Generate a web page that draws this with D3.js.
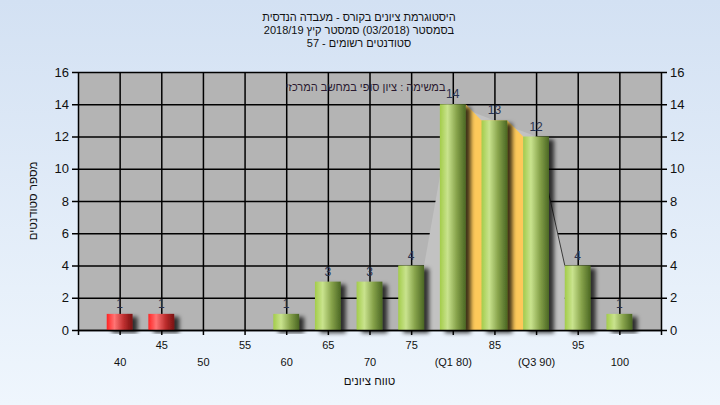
<!DOCTYPE html>
<html><head><meta charset="utf-8">
<script src="https://cdn.jsdelivr.net/npm/d3@7"></script>
<style>
html,body{margin:0;padding:0;}
svg{display:block;font-family:"Liberation Sans",Arial,sans-serif;}
</style></head>
<body>
<svg id="chart" width="720" height="405"></svg>
<script>
// ---- data ----
const titleLines = ["היסטוגרמת ציונים בקורס - מעבדה הנדסית", "בסמסטר (03/2018) סמסטר קיץ 2018/19", "סטודנטים רשומים - 57"];
const subtitle = "במשימה : ציון סופי במחשב המרכזי";
const xTitle = "טווח ציונים";
const yTitle = "מספר סטודנטים";
const categories = ["40","45","50","55","60","65","70","75","80","85","90","95","100"];
const tickLabels = ["40","45","50","55","60","65","70","75","(Q1 80)","85","(Q3 90)","95","100"];
const counts = [1,1,0,0,1,3,3,4,14,13,12,4,1];
const failCategories = ["40","45"];
const yTicks = [0,2,4,6,8,10,12,14,16];
const spreadRange = ["75","80","85","90","95"];   // light grey region
const iqrRange = ["80","85","90"];                // Q1..Q3 orange region

const W = 720, H = 405;
const m = {l:78, r:661, t:72, b:330};
const svg = d3.select("#chart");
const defs = svg.append("defs");

// background
const bg = defs.append("linearGradient").attr("id","bg").attr("x1",0).attr("y1",0).attr("x2",0).attr("y2",1);
bg.append("stop").attr("offset","0%").attr("stop-color","#d3e1f3");
bg.append("stop").attr("offset","100%").attr("stop-color","#eff6fd");
svg.append("rect").attr("width",W).attr("height",H).attr("fill","url(#bg)");

function cyl(id, c0, c1, c2, c3){
  const g = defs.append("linearGradient").attr("id",id).attr("x1",0).attr("y1",0).attr("x2",1).attr("y2",0);
  g.append("stop").attr("offset","0%").attr("stop-color",c0);
  g.append("stop").attr("offset","30%").attr("stop-color",c1);
  g.append("stop").attr("offset","65%").attr("stop-color",c2);
  g.append("stop").attr("offset","100%").attr("stop-color",c3);
}
cyl("green","#a3cc4a","#c9e38e","#86a24a","#4b6723");
cyl("red","#ff2424","#ff7474","#c03030","#781010");

const sh = defs.append("filter").attr("id","shadow").attr("x","-20%").attr("y","-20%").attr("width","160%").attr("height","140%");
sh.append("feDropShadow").attr("dx",5).attr("dy",3).attr("stdDeviation",2).attr("flood-color","#000").attr("flood-opacity",0.75);

const x = d3.scalePoint().domain(categories).range([m.l, m.r]).padding(1);
const y = d3.scaleLinear().domain([0,16]).range([m.b, m.t]);
const bw = x.step()*0.62;
const val = c => counts[categories.indexOf(c)];

// plot background
svg.append("rect").attr("x",m.l).attr("y",m.t).attr("width",m.r-m.l).attr("height",m.b-m.t).attr("fill","#b4b4b4");

// grid
svg.append("g").attr("transform",`translate(${m.l},0)`)
  .call(d3.axisLeft(y).tickValues(yTicks).tickSize(-(m.r-m.l)).tickFormat(""))
  .call(g=>{g.select(".domain").remove(); g.selectAll("line").attr("stroke","#000").attr("stroke-width",1.5);});
svg.append("g").attr("transform",`translate(0,${m.b})`)
  .call(d3.axisBottom(x).tickSize(-(m.b-m.t)).tickFormat(""))
  .call(g=>{g.select(".domain").remove(); g.selectAll("line").attr("stroke","#000").attr("stroke-width",1.5);});

// spread area (light grey)
const s0 = spreadRange[0], s1 = spreadRange[spreadRange.length-1];
const greyPts = [[x(s0)+bw/2, y(0)],[x(s0)+bw/2, y(val(s0))]];
spreadRange.slice(1,-1).forEach(c=>greyPts.push([x(c), y(val(c))]));
greyPts.push([x(s1)-bw/2, y(val(s1))],[x(s1)-bw/2, y(0)]);
svg.append("path").attr("d", d3.line()(greyPts)).attr("fill","#c2c2c2");
svg.append("path").attr("d", d3.line()(greyPts.slice(-3,-1))).attr("fill","none").attr("stroke","#3a3a3a").attr("stroke-width",1);

// IQR area (orange)
const orangePts = [];
iqrRange.forEach((c,i)=>{
  if(i>0) orangePts.push([x(c)-bw/2, y(val(c))]);
  if(i<iqrRange.length-1) orangePts.push([x(c)+bw/2, y(val(c))]);
});
const op = [[orangePts[0][0], y(0)], ...orangePts, [orangePts[orangePts.length-1][0], y(0)]];
svg.append("path").attr("d", d3.line()(op)).attr("fill","#fdc95a");

// bars
svg.append("g").selectAll("rect").data(categories.filter(c=>val(c)>0)).join("rect")
  .attr("x", c=>x(c)-bw/2).attr("width", bw)
  .attr("y", c=>y(val(c))).attr("height", c=>y(0)-y(val(c)))
  .attr("fill", c=> failCategories.includes(c) ? "url(#red)" : "url(#green)")
  .attr("filter","url(#shadow)");

// value labels
svg.append("g").selectAll("text").data(categories.filter(c=>val(c)>0)).join("text")
  .attr("x", c=>x(c)).attr("y", c=>y(val(c))-6)
  .attr("text-anchor","middle").attr("font-size",12).attr("fill","#2a3350")
  .text(c=>val(c));

// axes
const yl = svg.append("g").attr("transform",`translate(${m.l},0)`)
  .call(d3.axisLeft(y).tickValues(yTicks).tickSizeInner(6).tickSizeOuter(0));
const yr = svg.append("g").attr("transform",`translate(${m.r},0)`)
  .call(d3.axisRight(y).tickValues(yTicks).tickSizeInner(6).tickSizeOuter(0));
[yl,yr].forEach(g=>{
  g.selectAll("line").attr("stroke","#000").attr("stroke-width",1.5);
  g.select(".domain").attr("stroke","#000").attr("stroke-width",1.5);
  g.selectAll("text").attr("font-size",13).attr("fill","#111").attr("font-family","'Liberation Sans',Arial,sans-serif");
});
const xa = svg.append("g").attr("transform",`translate(0,${m.b})`)
  .call(d3.axisBottom(x).tickSizeInner(5).tickSizeOuter(5).tickFormat((d,i)=>tickLabels[i]));
xa.selectAll("line").attr("stroke","#000").attr("stroke-width",1.5);
xa.select(".domain").attr("stroke","#000").attr("stroke-width",1.5);
xa.selectAll("text").attr("font-size",11).attr("fill","#111").attr("font-family","'Liberation Sans',Arial,sans-serif")
  .attr("dy","0.35em").attr("y",(d,i)=> i%2===1 ? 15 : 32);

// titles
svg.append("g").selectAll("text").data(titleLines).join("text")
  .attr("x",359).attr("y",(d,i)=>21+i*13).attr("text-anchor","middle")
  .attr("font-size",11).attr("fill","#111").attr("direction","rtl").attr("unicode-bidi","embed").text(d=>d);
svg.append("text").attr("x",(m.l+m.r)/2 - 4).attr("y",91).attr("text-anchor","middle")
  .attr("font-size",11).attr("fill","#2a1a30").attr("direction","rtl").text(subtitle);
svg.append("text").attr("x",(m.l+m.r)/2).attr("y",385).attr("text-anchor","middle")
  .attr("font-size",11.5).attr("fill","#111").attr("direction","rtl").text(xTitle);
svg.append("text").attr("transform",`translate(37,${(m.t+m.b)/2}) rotate(-90)`).attr("text-anchor","middle")
  .attr("font-size",11.5).attr("fill","#111").attr("direction","rtl").text(yTitle);
</script>
</body></html>
